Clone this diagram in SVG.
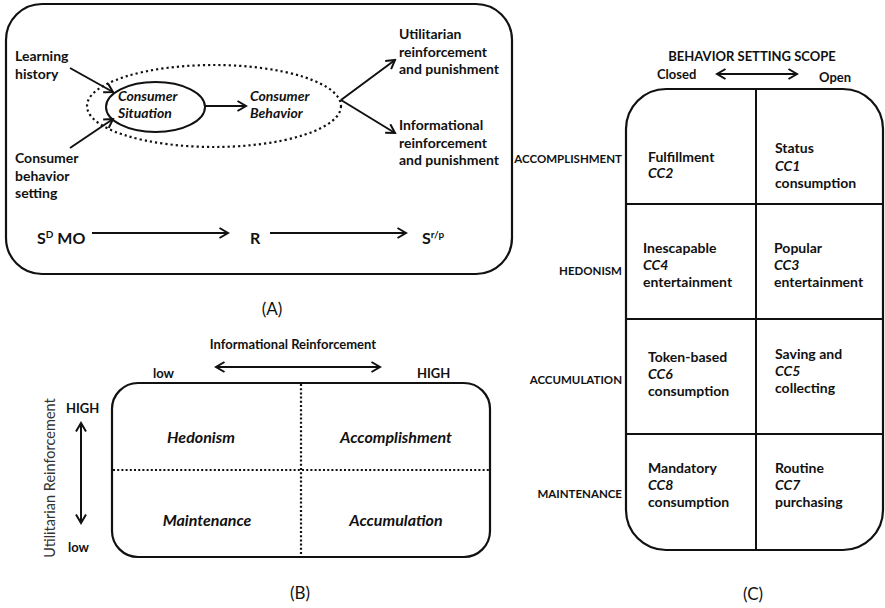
<svg xmlns="http://www.w3.org/2000/svg" width="885" height="608" viewBox="0 0 885 608">
<defs>
<style>
text{font-family:Lato,"Liberation Sans",sans-serif;fill:#111}
.b{font-weight:bold;font-size:14px}
.bi{font-weight:bold;font-style:italic;font-size:14px}
.cap{font-weight:bold;font-size:11.5px}
.lab{font-size:17px}
.frame{fill:none;stroke:#111;stroke-width:2.2}
.ln{fill:none;stroke:#111;stroke-width:2}
.dot{fill:none;stroke:#111;stroke-width:2.2;stroke-dasharray:2 2.2}
.ar{marker-end:url(#ah)}
.dbl{marker-end:url(#ah);marker-start:url(#ah)}
</style>
<marker id="ah" markerWidth="12" markerHeight="12" refX="10" refY="6" orient="auto-start-reverse" markerUnits="userSpaceOnUse">
<path d="M1.5,1 L10,6 L1.5,11" fill="none" stroke="#111" stroke-width="2"/>
</marker>
</defs>

<!-- Panel A -->
<g id="panelA">
<rect class="frame" x="6" y="4" width="506" height="270" rx="36"/>
<g id="learning"><text class="b" x="15" y="61">Learning</text><text class="b" x="15" y="79">history</text></g>
<g id="setting"><text class="b" x="15" y="163">Consumer</text><text class="b" x="15" y="181">behavior</text><text class="b" x="15" y="198">setting</text></g>
<g id="scope"><ellipse class="dot" cx="214" cy="106" rx="127" ry="41" style="stroke-dasharray:2.2 3"/></g>
<g id="situation"><ellipse class="ln" cx="155.5" cy="107" rx="49.5" ry="25"/><text class="bi" x="118" y="101">Consumer</text><text class="bi" x="118" y="118">Situation</text></g>
<g id="behavior"><text class="bi" x="250" y="101">Consumer</text><text class="bi" x="250" y="118">Behavior</text></g>
<g id="utilitarian"><text class="b" x="399" y="39">Utilitarian</text><text class="b" x="399" y="57">reinforcement</text><text class="b" x="399" y="74">and punishment</text></g>
<g id="informational"><text class="b" x="399" y="130">Informational</text><text class="b" x="399" y="148">reinforcement</text><text class="b" x="399" y="165">and punishment</text></g>
<g id="sdmo"><text class="b" x="37" y="244" style="font-size:16px">S<tspan dy="-6" style="font-size:10px">D</tspan><tspan dy="6"> MO</tspan></text></g>
<g id="r"><text class="b" x="250" y="244" style="font-size:16px">R</text></g>
<g id="srp"><text class="b" x="422" y="244" style="font-size:16px">S<tspan dy="-6" style="font-size:10px">r/p</tspan></text></g>
<text class="lab" x="272" y="315" text-anchor="middle">(A)</text>
</g>

<!-- Panel B -->
<g id="panelB">
<rect class="frame" x="112" y="383" width="378" height="174" rx="26"/>
<line class="dot" x1="301" y1="384" x2="301" y2="556"/>
<line class="dot" x1="113" y1="470" x2="489" y2="470"/>
<text class="b" x="293" y="349" text-anchor="middle" style="font-size:13px">Informational Reinforcement</text>
<text class="b" x="153" y="378" style="font-size:13px">low</text>
<text class="b" x="417" y="378" style="font-size:13px">HIGH</text>
<text class="b" x="66" y="413" style="font-size:13px">HIGH</text>
<text class="b" x="68" y="552" style="font-size:13px">low</text>
<text x="0" y="0" transform="translate(55,478) rotate(-90)" text-anchor="middle" style="font-size:14.5px;fill:#333">Utilitarian Reinforcement</text>
<g id="hedonism"><text class="bi" x="201" y="443" text-anchor="middle" style="font-size:16px">Hedonism</text></g>
<g id="accomplishment"><text class="bi" x="396" y="443" text-anchor="middle" style="font-size:16px">Accomplishment</text></g>
<g id="maintenance"><text class="bi" x="207" y="526" text-anchor="middle" style="font-size:16px">Maintenance</text></g>
<g id="accumulation"><text class="bi" x="396" y="526" text-anchor="middle" style="font-size:16px">Accumulation</text></g>
<text class="lab" x="300" y="599" text-anchor="middle">(B)</text>
</g>

<!-- Panel C -->
<g id="panelC">
<rect class="frame" x="626" y="89" width="257" height="461" rx="40"/>
<line class="ln" x1="756" y1="89" x2="756" y2="550"/>
<line class="ln" x1="626" y1="204" x2="883" y2="204"/>
<line class="ln" x1="626" y1="319" x2="883" y2="319"/>
<line class="ln" x1="626" y1="434" x2="883" y2="434"/>
<text class="b" x="752" y="61" text-anchor="middle" style="font-size:13px">BEHAVIOR SETTING SCOPE</text>
<text class="b" x="657" y="79" style="font-size:13px">Closed</text>
<text class="b" x="819" y="82" style="font-size:13px">Open</text>
<text class="cap" x="622" y="163" text-anchor="end">ACCOMPLISHMENT</text>
<text class="cap" x="622" y="275" text-anchor="end">HEDONISM</text>
<text class="cap" x="622" y="384" text-anchor="end">ACCUMULATION</text>
<text class="cap" x="622" y="498" text-anchor="end">MAINTENANCE</text>
<g id="cc2"><text class="b" x="648" y="162">Fulfillment</text><text class="bi" x="648" y="178">CC2</text></g>
<g id="cc1"><text class="b" x="775" y="153">Status</text><text class="bi" x="775" y="171">CC1</text><text class="b" x="775" y="188">consumption</text></g>
<g id="cc4"><text class="b" x="643" y="253">Inescapable</text><text class="bi" x="643" y="270">CC4</text><text class="b" x="643" y="287">entertainment</text></g>
<g id="cc3"><text class="b" x="774" y="253">Popular</text><text class="bi" x="774" y="270">CC3</text><text class="b" x="774" y="287">entertainment</text></g>
<g id="cc6"><text class="b" x="648" y="362">Token-based</text><text class="bi" x="648" y="379">CC6</text><text class="b" x="648" y="396">consumption</text></g>
<g id="cc5"><text class="b" x="775" y="359">Saving and</text><text class="bi" x="775" y="376">CC5</text><text class="b" x="775" y="393">collecting</text></g>
<g id="cc8"><text class="b" x="648" y="473">Mandatory</text><text class="bi" x="648" y="490">CC8</text><text class="b" x="648" y="507">consumption</text></g>
<g id="cc7"><text class="b" x="775" y="473">Routine</text><text class="bi" x="775" y="490">CC7</text><text class="b" x="775" y="507">purchasing</text></g>
<text class="lab" x="753" y="600" text-anchor="middle">(C)</text>
</g>

<!-- Connectors -->
<g id="connectors">
<line class="ln ar" x1="70" y1="68" x2="113" y2="92"/>
<line class="ln ar" x1="70" y1="148" x2="113" y2="119"/>
<line class="ln ar" x1="205" y1="106" x2="246" y2="106"/>
<line class="ln ar" x1="341" y1="100" x2="395" y2="60"/>
<line class="ln ar" x1="341" y1="100" x2="395" y2="133"/>
<line class="ln ar" x1="92" y1="233" x2="228" y2="233"/>
<line class="ln ar" x1="270" y1="233" x2="406" y2="233"/>
<line class="ln dbl" x1="216" y1="367" x2="380" y2="367"/>
<line class="ln dbl" x1="81" y1="423" x2="81" y2="523"/>
<line class="ln dbl" x1="717" y1="74" x2="797" y2="74"/>
</g>
</svg>
